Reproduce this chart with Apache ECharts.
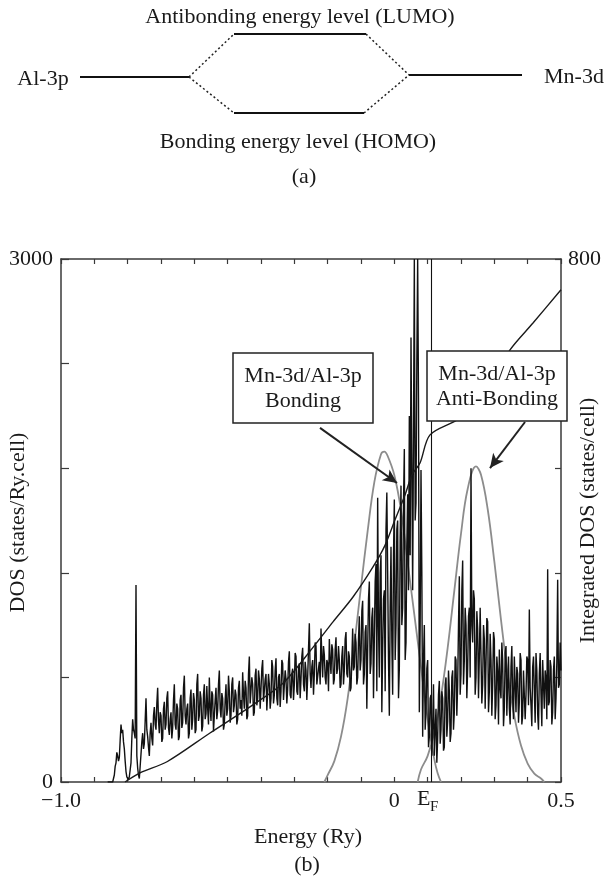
<!DOCTYPE html>
<html>
<head>
<meta charset="utf-8">
<script src="https://cdn.jsdelivr.net/npm/echarts/dist/echarts.min.js"></script>
<style>
  html, body { margin: 0; padding: 0; background: #ffffff; }
  #chart { width: 610px; height: 879px; }
</style>
</head>
<body>
<div id="chart"></div>
<script>
// ---- Data -------------------------------------------------------------
// DOS sampled on a regular energy grid (Ry), states/Ry.cell
const dosStart = -0.86;
const dosStep = 0.0025;
const dosValues = [
  0, 0, 0, 0, 0, 0, 0, 20, 40, 90, 110, 170, 150, 120, 140, 240, 330, 280, 300, 230,
  190, 120, 60, 30, 20, 15, 30, 70, 110, 250, 360, 300, 280, 250, 1130, 150, 80, 40, 20, 90,
  160, 230, 280, 190, 220, 350, 480, 300, 260, 200, 150, 280, 340, 250, 210, 380, 430, 330, 300, 450,
  540, 350, 280, 400, 380, 230, 250, 420, 460, 300, 330, 480, 520, 310, 270, 360, 400, 250, 310, 470,
  560, 330, 300, 450, 420, 240, 260, 470, 500, 310, 340, 540, 610, 380, 330, 420, 450, 250, 280, 480,
  530, 300, 360, 510, 470, 280, 300, 560, 620, 350, 380, 520, 480, 290, 320, 500, 560, 360, 390, 550,
  420, 330, 600, 430, 350, 520, 500, 290, 280, 470, 540, 360, 410, 560, 640, 420, 370, 510, 480, 300,
  330, 470, 560, 380, 420, 610, 520, 340, 380, 560, 600, 400, 440, 530, 500, 330, 360, 540, 580, 420,
  470, 380, 630, 500, 420, 580, 540, 360, 380, 620, 720, 450, 450, 600, 560, 380, 400, 610, 650, 440,
  480, 640, 590, 420, 430, 650, 700, 460, 470, 590, 620, 410, 400, 620, 560, 420, 480, 700, 660, 450,
  500, 640, 710, 480, 440, 600, 620, 430, 520, 700, 680, 470, 460, 640, 590, 450, 530, 690, 750, 500,
  480, 620, 650, 470, 560, 740, 720, 520, 500, 650, 680, 480, 590, 720, 770, 560, 520, 690, 640, 470,
  600, 760, 910, 620, 540, 660, 700, 500, 620, 800, 780, 560, 560, 650, 690, 560, 880, 720, 600, 780,
  730, 600, 560, 700, 680, 520, 820, 700, 620, 790, 760, 560, 590, 760, 830, 620, 650, 780, 700, 540,
  560, 720, 780, 560, 640, 820, 860, 620, 600, 750, 720, 520, 540, 700, 880, 640, 660, 850, 800, 560,
  600, 820, 950, 640, 700, 980, 1040, 560, 620, 860, 900, 420, 760, 1050, 1150, 620, 680, 940, 1000, 480,
  820, 1150, 1250, 520, 1630, 900, 600, 1200, 1300, 400, 760, 1050, 1100, 520, 1450, 1660, 1200, 700, 380, 1000,
  1350, 800, 500, 1300, 1620, 700, 900, 1450, 1500, 480, 650, 1400, 1700, 900, 1000, 1600, 1910, 700, 800, 1350,
  1650, 1100, 2100, 1300, 2550, 1800, 1100, 2000, 3000, 1500, 1600, 2400, 3000, 2200, 400, 900, 1790, 1200, 260, 700,
  900, 300, 400, 650, 700, 200, 260, 480, 500, 150, 320, 560, 150, 300, 420, 110, 250, 500, 580, 220,
  300, 520, 480, 180, 200, 560, 600, 260, 350, 640, 520, 230, 280, 600, 640, 300, 400, 720, 700, 380,
  560, 900, 1180, 500, 620, 1100, 1270, 560, 700, 1000, 900, 480, 650, 950, 1000, 600, 1800, 900, 800, 1100,
  1050, 500, 600, 980, 880, 480, 720, 1000, 1000, 450, 560, 900, 820, 420, 680, 940, 920, 400, 520, 850,
  700, 380, 560, 860, 820, 360, 440, 720, 640, 330, 760, 540, 480, 800, 700, 320, 420, 740, 780, 380,
  560, 720, 420, 330, 660, 780, 480, 360, 720, 560, 400, 660, 620, 340, 460, 740, 700, 330, 380, 640,
  640, 360, 500, 720, 700, 440, 990, 540, 440, 320, 660, 720, 520, 340, 740, 640, 390, 300, 620, 740,
  500, 320, 700, 560, 420, 640, 590, 360, 1220, 440, 460, 700, 660, 330, 400, 640, 720, 360, 480, 690,
  1160, 540, 560, 800, 640
];

// Integrated DOS, states/cell (right axis)
const integratedEnergy = [-0.808, -0.763, -0.682, -0.553, -0.433, -0.334, -0.244, -0.184, -0.124, -0.064,
  -0.028, 0.002, 0.032, 0.053, 0.077, 0.107, 0.188, 0.257, 0.308, 0.347, 0.416, 0.5];
const integratedValues = [0, 14, 31, 75, 115, 151, 206, 245, 283, 329,
  362, 401, 439, 470, 488, 531, 554, 584, 623, 661, 702, 753];

// Mn-3d/Al-3p bonding band envelope (left axis units)
const bondingEnergy = [-0.21, -0.20, -0.18, -0.16, -0.14, -0.12, -0.10, -0.08, -0.06, -0.04, -0.03, -0.02,
  0.00, 0.02, 0.04, 0.06, 0.08, 0.10, 0.12, 0.13, 0.14];
const bondingValues = [0, 40, 120, 260, 480, 790, 1120, 1440, 1720, 1880, 1895, 1870,
  1760, 1560, 1260, 960, 660, 360, 130, 50, 0];

// Mn-3d/Al-3p anti-bonding band envelope (left axis units)
const antiEnergy = [0.07, 0.08, 0.10, 0.12, 0.14, 0.16, 0.18, 0.20, 0.22, 0.245, 0.26, 0.28, 0.30,
  0.32, 0.34, 0.36, 0.38, 0.40, 0.42, 0.44, 0.45];
const antiValues = [0, 72, 150, 285, 491, 770, 1098, 1424, 1681, 1810, 1762, 1566, 1265,
  930, 622, 378, 209, 106, 48, 20, 0];

const fermiEnergy = 0.107;

// Energy-axis tick labels
const xTickLabels = { '-1': '\u22121.0', '0': '0', '0.5': '0.5' };
const dosTickLabels = { '0': '0', '3000': '3000' };
const intTickLabels = { '800': '800' };

// Arrow endpoints [energy, DOS] from the callout boxes to the bands
const bondingArrow = [[-0.223, 2031], [0.008, 1715]];
const antiArrow = [[0.392, 2065], [0.287, 1801]];

// ---- Helpers -----------------------------------------------------------
const pair = (xs, ys) => xs.map((x, i) => [x, ys[i]]);
const dosData = dosValues.map((v, i) => [+(dosStart + i * dosStep).toFixed(4), v]);

const FONT = '"Liberation Serif", "Times New Roman", serif';
const INK = '#1a1a1a';
const AXIS = '#3a3a3a';

const chart = echarts.init(document.getElementById('chart'), null, { renderer: 'canvas' });

const gridL = 61, gridR = 561, gridT = 259, gridB = 782;

function axisBase(extra) {
  return Object.assign({
    axisLine: { show: true, onZero: false, lineStyle: { color: AXIS, width: 1.5 } },
    splitLine: { show: false },
  }, extra);
}

function txt(x, y, text, opts) {
  opts = opts || {};
  return {
    type: 'text', x: x, y: y, rotation: opts.rotation || 0, silent: true, z: 100,
    style: {
      text: text, x: 0, y: 0,
      font: (opts.size || 22) + 'px ' + FONT,
      fill: INK,
      textAlign: opts.align || 'center',
      textVerticalAlign: opts.vAlign || 'middle'
    }
  };
}

function seg(x1, y1, x2, y2, dotted) {
  return {
    type: 'line', silent: true, z: 100,
    shape: { x1: x1, y1: y1, x2: x2, y2: y2 },
    style: dotted ? { stroke: '#222', lineWidth: 1.5, lineDash: [2, 2.5] } : { stroke: '#111', lineWidth: 2.2 }
  };
}

// Schematic energy-level diagram (a)
const diagram = [
  txt(300, 17, 'Antibonding energy level (LUMO)'),
  seg(234, 34, 366, 34),
  seg(234, 113, 364, 113),
  seg(80, 77, 189, 77),
  seg(409, 75, 522, 75),
  seg(189, 77, 234, 34, true),
  seg(189, 77, 234, 113, true),
  seg(366, 34, 409, 75, true),
  seg(364, 113, 409, 75, true),
  txt(43, 79, 'Al-3p'),
  txt(574, 77, 'Mn-3d'),
  txt(298, 142, 'Bonding energy level (HOMO)'),
  txt(304, 177, '(a)')
];

function calloutBox(cx, cy, lines) {
  const z = 90;
  return {
    type: 'group', silent: true, z: z,
    children: [
      { type: 'rect', z: z, shape: { x: cx - 70, y: cy - 35, width: 140, height: 70 },
        style: { fill: '#ffffff', stroke: '#222', lineWidth: 1.5 } },
      { type: 'text', z: z + 1, style: { text: lines[0], x: cx, y: cy - 12, font: '22px ' + FONT, fill: INK,
        textAlign: 'center', textVerticalAlign: 'middle' } },
      { type: 'text', z: z + 1, style: { text: lines[1], x: cx, y: cy + 13, font: '22px ' + FONT, fill: INK,
        textAlign: 'center', textVerticalAlign: 'middle' } }
    ]
  };
}

const option = {
  animation: false,
  backgroundColor: '#ffffff',
  grid: { left: gridL, right: 610 - gridR, top: gridT, bottom: 879 - gridB, containLabel: false },
  xAxis: [
    axisBase({
      type: 'value', min: -1, max: 0.5, interval: 0.1, position: 'bottom',
      axisTick: { show: true, inside: true, length: 5, lineStyle: { color: AXIS, width: 1.2 } },
      axisLabel: {
        show: true, margin: 8, color: INK, fontFamily: FONT, fontSize: 22,
        showMinLabel: true, showMaxLabel: true,
        formatter: v => { const k = String(Math.round(v * 10) / 10); return xTickLabels[k] || ''; }
      }
    }),
    axisBase({
      type: 'value', min: -1, max: 0.5, interval: 0.1, position: 'top',
      axisTick: { show: true, inside: true, length: 5, lineStyle: { color: AXIS, width: 1.2 } },
      axisLabel: { show: false }
    })
  ],
  yAxis: [
    axisBase({
      type: 'value', min: 0, max: 3000, interval: 600, position: 'left',
      axisTick: { show: true, inside: true, length: 8, lineStyle: { color: AXIS, width: 1.2 } },
      axisLabel: {
        show: true, margin: 8, color: INK, fontFamily: FONT, fontSize: 22,
        formatter: v => dosTickLabels[String(v)] || ''
      }
    }),
    axisBase({
      type: 'value', min: 0, max: 800, interval: 160, position: 'right',
      axisTick: { show: true, inside: true, length: 6, lineStyle: { color: AXIS, width: 1.2 } },
      axisLabel: {
        show: true, margin: 7, color: INK, fontFamily: FONT, fontSize: 22,
        formatter: v => intTickLabels[String(v)] || ''
      }
    })
  ],
  series: [
    {
      name: 'Bonding band', type: 'line', xAxisIndex: 0, yAxisIndex: 0,
      data: pair(bondingEnergy, bondingValues), smooth: 0.4, showSymbol: false, z: 2,
      lineStyle: { color: '#8c8c8c', width: 1.8 }
    },
    {
      name: 'Anti-bonding band', type: 'line', xAxisIndex: 0, yAxisIndex: 0,
      data: pair(antiEnergy, antiValues), smooth: 0.4, showSymbol: false, z: 2,
      lineStyle: { color: '#8c8c8c', width: 1.8 }
    },
    {
      name: 'DOS', type: 'line', xAxisIndex: 0, yAxisIndex: 0,
      data: dosData, showSymbol: false, z: 3,
      lineStyle: { color: '#111111', width: 1.4 },
      markLine: {
        silent: true, symbol: ['none', 'none'], label: { show: false },
        lineStyle: { color: '#111111', width: 1.1, type: 'solid' },
        data: [{ xAxis: fermiEnergy }]
      }
    },
    {
      name: 'Integrated DOS', type: 'line', xAxisIndex: 0, yAxisIndex: 1,
      data: pair(integratedEnergy, integratedValues), smooth: 0.3, showSymbol: false, z: 4,
      lineStyle: { color: '#1a1a1a', width: 1.4 }
    },
    {
      name: 'Callout arrows', type: 'line', xAxisIndex: 0, yAxisIndex: 0, data: [], z: 5,
      markLine: {
        silent: true, symbol: ['none', 'arrow'], symbolSize: [10, 14], label: { show: false },
        lineStyle: { color: '#222222', width: 2, type: 'solid' },
        data: [
          [{ coord: bondingArrow[0] }, { coord: bondingArrow[1] }],
          [{ coord: antiArrow[0] }, { coord: antiArrow[1] }]
        ]
      }
    }
  ],
  graphic: []
};

chart.setOption(option);

const efX = chart.convertToPixel({ xAxisIndex: 0 }, fermiEnergy);
const midX = (gridL + gridR) / 2;
const midY = (gridT + gridB) / 2;

chart.setOption({
  graphic: diagram.concat([
    calloutBox(303, 388, ['Mn-3d/Al-3p', 'Bonding']),
    calloutBox(497, 386, ['Mn-3d/Al-3p', 'Anti-Bonding']),
    txt(18, midY + 2, 'DOS (states/Ry.cell)', { rotation: Math.PI / 2 }),
    txt(588, midY, 'Integrated DOS (states/cell)', { rotation: Math.PI / 2 }),
    txt(midX - 3, 837, 'Energy (Ry)'),
    txt(midX - 4, 865, '(b)'),
    txt(efX - 13, 799, 'E', { align: 'left' }),
    txt(efX, 807, 'F', { align: 'left', size: 15 })
  ])
});
</script>
</body>
</html>
